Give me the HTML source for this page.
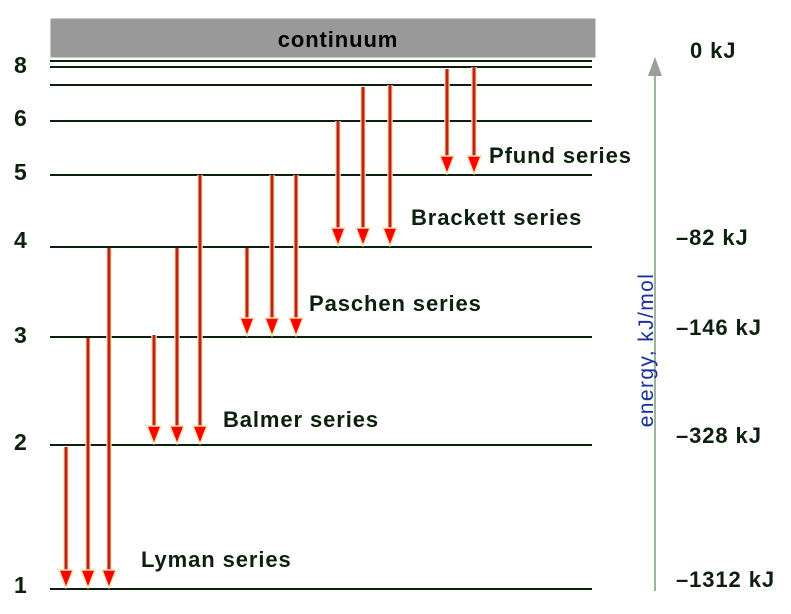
<!DOCTYPE html>
<html><head><meta charset="utf-8"><style>
html,body{margin:0;padding:0;background:#fff;}
svg{display:block;font-family:"Liberation Sans",sans-serif;font-weight:bold;}
</style></head><body>
<svg width="791" height="614" viewBox="0 0 791 614" xmlns="http://www.w3.org/2000/svg">
<defs>
<g id="ah"><path d="M-7,-18 L7,-18 L0,0 Z" fill="#f00" stroke="#f3e3b0" stroke-width="1.5" stroke-linejoin="round"/></g>
</defs>
<rect x="51" y="19" width="544" height="38" fill="#999" stroke="#8f9f8f" stroke-width="1"/>
<text x="338" y="47" font-size="22" letter-spacing="0.9" text-anchor="middle" fill="#000">continuum</text>
<g stroke="#0d1f0d" stroke-width="2">
<line x1="50" y1="61" x2="592" y2="61"/>
<line x1="50" y1="67" x2="592" y2="67"/>
<line x1="50" y1="85" x2="592" y2="85"/>
<line x1="50" y1="121" x2="592" y2="121"/>
<line x1="50" y1="175" x2="592" y2="175"/>
<line x1="50" y1="247" x2="592" y2="247"/>
<line x1="50" y1="337" x2="592" y2="337"/>
<line x1="50" y1="445" x2="592" y2="445"/>
<line x1="50" y1="589" x2="592" y2="589"/>
</g>
<g font-size="23" fill="#0d1f0d">
<text x="14" y="73">8</text>
<text x="14" y="126">6</text>
<text x="14" y="180">5</text>
<text x="14" y="248">4</text>
<text x="14" y="343">3</text>
<text x="14" y="450">2</text>
<text x="14" y="593">1</text>
</g>
<g stroke-linecap="butt">
<g stroke="#f3e3b0" stroke-width="5.5">
<line x1="66" y1="447" x2="66" y2="572"/>
<line x1="88" y1="338" x2="88" y2="572"/>
<line x1="109" y1="248" x2="109" y2="572"/>
<line x1="154" y1="335" x2="154" y2="428"/>
<line x1="177" y1="248" x2="177" y2="428"/>
<line x1="200" y1="175" x2="200" y2="428"/>
<line x1="247" y1="248" x2="247" y2="320"/>
<line x1="272" y1="175" x2="272" y2="320"/>
<line x1="296" y1="175" x2="296" y2="320"/>
<line x1="338" y1="121" x2="338" y2="230"/>
<line x1="363" y1="87" x2="363" y2="230"/>
<line x1="390" y1="85" x2="390" y2="230"/>
<line x1="447" y1="69" x2="447" y2="158"/>
<line x1="474" y1="67" x2="474" y2="158"/>
</g>
<g stroke="#c0201a" stroke-width="3">
<line x1="66" y1="447" x2="66" y2="572"/>
<line x1="88" y1="338" x2="88" y2="572"/>
<line x1="109" y1="248" x2="109" y2="572"/>
<line x1="154" y1="335" x2="154" y2="428"/>
<line x1="177" y1="248" x2="177" y2="428"/>
<line x1="200" y1="175" x2="200" y2="428"/>
<line x1="247" y1="248" x2="247" y2="320"/>
<line x1="272" y1="175" x2="272" y2="320"/>
<line x1="296" y1="175" x2="296" y2="320"/>
<line x1="338" y1="121" x2="338" y2="230"/>
<line x1="363" y1="87" x2="363" y2="230"/>
<line x1="390" y1="85" x2="390" y2="230"/>
<line x1="447" y1="69" x2="447" y2="158"/>
<line x1="474" y1="67" x2="474" y2="158"/>
</g>
</g>
<use href="#ah" x="66" y="588"/><use href="#ah" x="88" y="588"/><use href="#ah" x="109" y="588"/>
<use href="#ah" x="154" y="444"/><use href="#ah" x="177" y="444"/><use href="#ah" x="200" y="444"/>
<use href="#ah" x="247" y="336"/><use href="#ah" x="272" y="336"/><use href="#ah" x="296" y="336"/>
<use href="#ah" x="338" y="246"/><use href="#ah" x="363" y="246"/><use href="#ah" x="390" y="246"/>
<use href="#ah" x="447" y="174"/><use href="#ah" x="474" y="174"/>
<g font-size="22" letter-spacing="0.9" fill="#0d1f0d">
<text x="489" y="163">Pfund series</text>
<text x="411" y="225">Brackett series</text>
<text x="309" y="311">Paschen series</text>
<text x="223" y="427">Balmer series</text>
<text x="141" y="567">Lyman series</text>
</g>
<line x1="655" y1="591" x2="655" y2="72" stroke="#9ab59a" stroke-width="2"/>
<path d="M648,76 L662,76 L655,57 Z" fill="#9a9f9a"/>
<text transform="translate(653,350) rotate(-90)" font-size="21" letter-spacing="1.4" font-weight="normal" fill="#1a2fa0" text-anchor="middle">energy, kJ/mol</text>
<g font-size="22" letter-spacing="0.9" fill="#0d1f0d">
<text x="690" y="58">0 kJ</text>
<text x="676" y="245">–82 kJ</text>
<text x="676" y="335">–146 kJ</text>
<text x="676" y="443">–328 kJ</text>
<text x="676" y="587">–1312 kJ</text>
</g>
</svg>
</body></html>
